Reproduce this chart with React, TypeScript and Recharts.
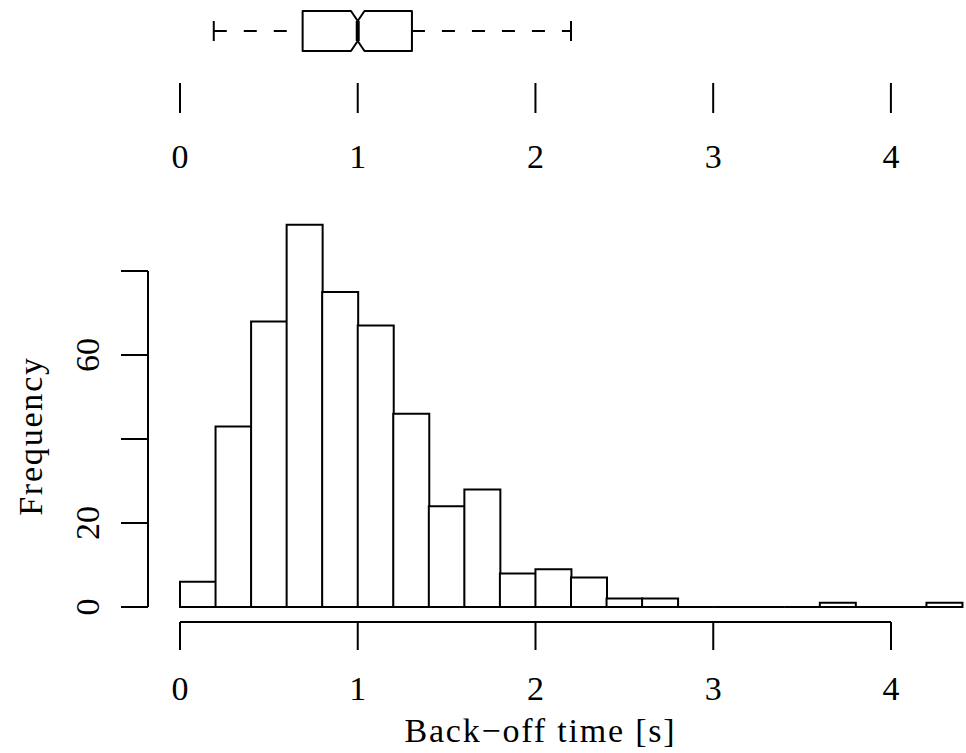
import { BarChart, Bar, ComposedChart, Line, XAxis, YAxis } from 'recharts';

// histogram bins (0.2 s wide) and their counts
const binLabels = [
  '0.0-0.2', '0.2-0.4', '0.4-0.6', '0.6-0.8', '0.8-1.0', '1.0-1.2',
  '1.2-1.4', '1.4-1.6', '1.6-1.8', '1.8-2.0', '2.0-2.2', '2.2-2.4',
  '2.4-2.6', '2.6-2.8', '2.8-3.0', '3.0-3.2', '3.2-3.4', '3.4-3.6',
  '3.6-3.8', '3.8-4.0', '4.0-4.2', '4.2-4.4',
];
const counts = [6, 43, 68, 91, 75, 67, 46, 24, 28, 8, 9, 7, 2, 2, 0, 0, 0, 0, 1, 0, 0, 1];

const xTicks = [0, 1, 2, 3, 4];
const yTicks = [0, 20, 40, 60, 80];
const yTickLabels = ['0', '20', '', '60', ''];

// whisker low, Q1, median, Q3, whisker high
const boxStats = [0.19, 0.69, 1.0, 1.305, 2.2];
const boxNotch = [0.962, 1.038];

const histData = binLabels.map((bin, i) => ({ bin, count: counts[i] }));
const boxData = [{ name: 'Back-off', range: [boxStats[0], boxStats[4]], stats: boxStats, notch: boxNotch }];

const FONT = '"Liberation Serif", "Times New Roman", serif';
const FS = 34;
const line = { stroke: '#000', strokeWidth: 2 };

function HistBar(props: any) {
  const { x, y, width, height } = props;
  const b = y + height;
  return (
    <path
      d={`M${x},${b}L${x},${y}L${x + width},${y}L${x + width},${b}Z`}
      fill="#fff"
      stroke="#000"
      strokeWidth={2}
    />
  );
}

function BoxShape(props: any) {
  const { x, y, width, height, payload } = props;
  const [lo, q1, med, q3, hi] = payload.stats;
  const [n1, n2] = payload.notch;
  const px = (v: number) => x + ((v - lo) / (hi - lo)) * width;
  const top = y;
  const bot = y + height;
  const cy = y + height / 2;
  const q = height / 4;
  const d =
    `M${px(q1)},${top}L${px(n1)},${top}L${px(med)},${top + q}L${px(n2)},${top}L${px(q3)},${top}` +
    `L${px(q3)},${bot}L${px(n2)},${bot}L${px(med)},${bot - q}L${px(n1)},${bot}L${px(q1)},${bot}Z`;
  return (
    <g>
      <line x1={px(lo)} x2={px(q1)} y1={cy} y2={cy} {...line} strokeDasharray="13 17" />
      <line x1={px(q3)} x2={px(hi)} y1={cy} y2={cy} {...line} strokeDasharray="13 17" />
      <line x1={px(lo)} x2={px(lo)} y1={cy - q} y2={cy + q} {...line} />
      <line x1={px(hi)} x2={px(hi)} y1={cy - q} y2={cy + q} {...line} />
      <path d={d} fill="#fff" {...line} strokeLinejoin="round" />
      <line x1={px(med)} x2={px(med)} y1={top + q} y2={bot - q} stroke="#000" strokeWidth={4} />
    </g>
  );
}

function renderYTick(props: any) {
  const { x, y, payload } = props;
  const label = yTickLabels[yTicks.indexOf(payload.value)];
  return (
    <text transform={`translate(${x},${y}) rotate(-90)`} textAnchor="middle" fontSize={FS} fill="#000">
      {label}
    </text>
  );
}

function freqLabel(props: any) {
  const vb = props.viewBox;
  return (
    <text
      transform={`translate(${vb.x - 6},${vb.y + vb.height / 2 - 3}) rotate(-90)`}
      textAnchor="middle"
      fontSize={FS}
      letterSpacing={1.8}
      fill="#000"
    >
      Frequency
    </text>
  );
}

function timeLabel(props: any) {
  const vb = props.viewBox;
  return (
    <text x={vb.x + vb.width / 2 + 5} y={vb.y + 120} textAnchor="middle" fontSize={FS} letterSpacing={1.8} fill="#000">
      Back−off time [s]
    </text>
  );
}

export default function App() {
  return (
    <div
      style={{
        position: 'fixed',
        left: 0,
        top: 0,
        width: 966,
        height: 753,
        overflow: 'hidden',
        background: '#fff',
        fontFamily: FONT,
      }}
    >
      {/* histogram bars */}
      <div style={{ position: 'absolute', left: 0, top: 0 }}>
        <BarChart
          width={1000}
          height={753}
          data={histData}
          margin={{ top: 208, right: 38, bottom: 146, left: 180 }}
          barCategoryGap={0}
          barGap={0}
        >
          <XAxis dataKey="bin" hide />
          <YAxis hide domain={[0, 95]} />
          <Bar dataKey="count" shape={HistBar} isAnimationActive={false} />
        </BarChart>
      </div>

      {/* frequency axis */}
      <div style={{ position: 'absolute', left: 0, top: 0 }}>
        <ComposedChart
          width={200}
          height={753}
          data={yTicks.map((v) => ({ v }))}
          margin={{ top: 271, right: 10, bottom: 146, left: 48 }}
        >
          <XAxis hide />
          <YAxis
            domain={[0, 80]}
            ticks={yTicks}
            interval={0}
            width={100}
            tickSize={27}
            tickMargin={22}
            axisLine={line}
            tickLine={line}
            tick={renderYTick}
            label={freqLabel}
          />
          <Line dataKey="v" stroke="none" dot={false} isAnimationActive={false} />
        </ComposedChart>
      </div>

      {/* back-off time axis */}
      <div style={{ position: 'absolute', left: 0, top: 0 }}>
        <ComposedChart
          width={1000}
          height={753}
          data={xTicks.map((t) => ({ t, v: 0 }))}
          margin={{ top: 500, right: 109, bottom: 11, left: 180 }}
        >
          <XAxis
            type="number"
            dataKey="t"
            domain={[0, 4]}
            ticks={xTicks}
            interval={0}
            height={120}
            tickSize={28}
            tickMargin={26}
            axisLine={line}
            tickLine={line}
            tick={{ fontSize: FS, fill: '#000' }}
            label={timeLabel}
          />
          <YAxis hide domain={[0, 1]} />
          <Line dataKey="v" stroke="none" dot={false} isAnimationActive={false} />
        </ComposedChart>
      </div>

      {/* notched box plot */}
      <div style={{ position: 'absolute', left: 0, top: -21 }}>
        <ComposedChart
          layout="vertical"
          width={1000}
          height={230}
          data={boxData}
          margin={{ top: 0, right: 38, bottom: 46, left: 180 }}
        >
          <XAxis
            type="number"
            domain={[0, 4.4]}
            ticks={xTicks}
            interval={0}
            allowDataOverflow
            height={80}
            tickSize={30}
            tickMargin={31}
            axisLine={false}
            tickLine={line}
            tick={{ fontSize: FS, fill: '#000' }}
          />
          <YAxis type="category" dataKey="name" hide />
          <Bar dataKey="range" barSize={40} shape={BoxShape} isAnimationActive={false} />
        </ComposedChart>
      </div>
    </div>
  );
}
